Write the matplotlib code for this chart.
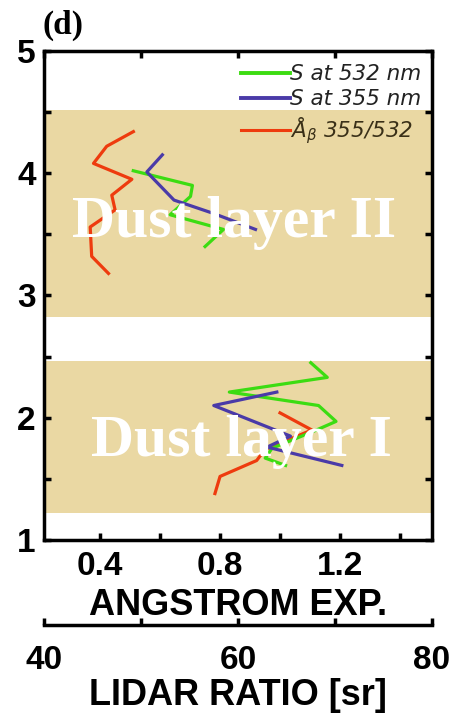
import numpy as np
import matplotlib
matplotlib.use("Agg")
import matplotlib.pyplot as plt
from matplotlib.ticker import FixedLocator, NullFormatter

# ---- data ----
# Angstrom exponent 355/532 (bottom axis)
ang_upper_x = [0.511, 0.422, 0.378, 0.506, 0.439, 0.45, 0.367, 0.372, 0.428]
ang_upper_y = [4.34, 4.22, 4.08, 3.95, 3.82, 3.70, 3.56, 3.32, 3.18]
ang_lower_x = [1.0, 1.106, 0.95, 0.922, 0.80, 0.783]
ang_lower_y = [2.04, 1.90, 1.74, 1.65, 1.52, 1.38]

# lidar ratio at 532 nm (LR axis)
s532_upper_x = [49.2, 55.3, 55.1, 53.0, 58.5, 56.6]
s532_upper_y = [4.02, 3.90, 3.81, 3.66, 3.54, 3.40]
s532_lower_x = [67.5, 69.2, 59.1, 68.3, 70.1, 67.8, 63.5, 62.8, 64.9]
s532_lower_y = [2.45, 2.33, 2.21, 2.10, 1.97, 1.89, 1.75, 1.67, 1.61]

# lidar ratio at 355 nm
s355_upper_x = [52.2, 50.6, 53.4, 57.5, 61.8]
s355_upper_y = [4.15, 4.01, 3.78, 3.67, 3.54]
s355_lower_x = [64.0, 57.5, 65.4, 63.0, 70.7]
s355_lower_y = [2.21, 2.10, 1.85, 1.76, 1.61]

# dust layers (bottom, top) in km
layers = [(1.22, 2.46), (2.82, 4.52)]
layer_names = ["Dust layer I", "Dust layer II"]
layer_text_y = [1.80, 3.59]

ang_ticks = [0.4, 0.8, 1.2]
ang_minor = [0.2, 0.6, 1.0, 1.4]
lr_ticks = [40, 50, 60, 70, 80]
lr_labels = ["40", "", "60", "", "80"]

c_green = "#3cdc12"
c_blue = "#4a3aa8"
c_red = "#ee3b0e"
c_band = "#eAd8a3"

sans = "Liberation Sans"
serif = "Liberation Serif"

fig = plt.figure(figsize=(4.56, 7.13), dpi=100)
ax = fig.add_axes([0.0965, 0.2426, 0.851, 0.686])
ax.set_xlim(0.213, 1.507)
ax.set_ylim(1, 5)

for (b, t) in layers:
    ax.axhspan(b, t, color=c_band, lw=0, zorder=0)

lw = 2.3
ax.plot(ang_upper_x, ang_upper_y, color=c_red, lw=lw, zorder=2)
ax.plot(ang_lower_x, ang_lower_y, color=c_red, lw=lw, zorder=2)

ax2 = ax.twiny()
ax2.set_xlim(40, 80)
ax2.plot(s532_upper_x, s532_upper_y, color=c_green, lw=lw, zorder=2)
ax2.plot(s532_lower_x, s532_lower_y, color=c_green, lw=lw, zorder=2)
ax2.plot(s355_upper_x, s355_upper_y, color=c_blue, lw=lw, zorder=2)
ax2.plot(s355_lower_x, s355_lower_y, color=c_blue, lw=lw, zorder=2)

layer_text_x = [60.4, 59.6]
for name, xx, yy in zip(layer_names, layer_text_x, layer_text_y):
    ax2.text(xx, yy, name, color="white", fontsize=43, fontweight="bold",
             family=serif, ha="center", va="center", zorder=5)

# main axis ticks
ax.xaxis.set_major_locator(FixedLocator(ang_ticks))
ax.xaxis.set_minor_locator(FixedLocator(ang_minor))
ax.set_xticklabels(["0.4", "0.8", "1.2"])
ax.yaxis.set_major_locator(FixedLocator([1, 2, 3, 4, 5]))
ax.yaxis.set_minor_locator(FixedLocator([1.5, 2.5, 3.5, 4.5]))
ax.tick_params(which="both", direction="in", width=2.5, top=False,
               right=True, length=5)
ax.tick_params(axis="x", labelsize=24, pad=8)
ax.tick_params(axis="y", labelsize=24, pad=6)
for lab in ax.get_xticklabels() + ax.get_yticklabels():
    lab.set_fontfamily(sans)
    lab.set_fontweight("bold")
ax.set_xlabel("ANGSTROM EXP.", fontsize=26, fontweight="bold", family=sans,
              labelpad=4)

ax2.xaxis.set_major_locator(FixedLocator(lr_ticks))
ax2.xaxis.set_major_formatter(NullFormatter())
ax2.tick_params(direction="in", width=2.5, length=5)

for sp in ax.spines.values():
    sp.set_linewidth(2.5)

# separate lidar ratio axis below
sec = ax2.secondary_xaxis(-0.174)
sec.set_xticks(lr_ticks)
sec.set_xticklabels(lr_labels)
sec.tick_params(direction="in", width=2.5, length=5, labelsize=24, pad=14)
for lab in sec.get_xticklabels():
    lab.set_fontfamily(sans)
    lab.set_fontweight("bold")
sec.spines["bottom"].set_linewidth(2.5)
sec.set_xlabel("LIDAR RATIO [sr]", fontsize=26, fontweight="bold",
               family=sans, labelpad=2)

# legend
h1, = ax.plot([], [], color=c_green, lw=2.8)
h2, = ax.plot([], [], color=c_blue, lw=2.8)
h3, = ax.plot([], [], color=c_red, lw=2.2)
leg = ax.legend([h1, h2, h3],
                ["S at 532 nm", "S at 355 nm", "Å$_\\beta$ 355/532"],
                loc="upper right", bbox_to_anchor=(1.0, 0.995), frameon=False,
                handlelength=2.3, handletextpad=0.0, labelspacing=0.25,
                borderaxespad=0.1,
                prop={"family": "DejaVu Sans", "style": "italic", "size": 15.5})
for t in leg.get_texts():
    t.set_color("#222222")
leg.get_texts()[2].set_color("#3a3018")
leg.set_zorder(6)

fig.text(0.094, 0.965, "(d)", fontsize=24, fontweight="bold", family=serif,
         ha="left", va="center")

fig.savefig("out.png", dpi=100)
